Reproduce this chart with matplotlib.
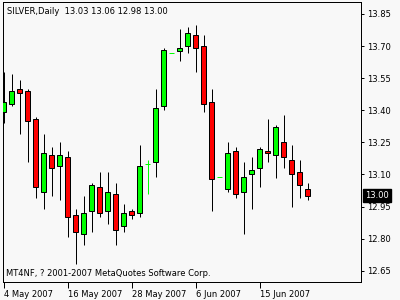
import numpy as np
import matplotlib
matplotlib.use("Agg")
import matplotlib.pyplot as plt

# daily silver bars, 4 May 2007 onwards
opens  = [13.39, 13.43, 13.50, 13.49, 13.36, 13.02, 13.19, 13.14, 13.18, 12.91,
          12.82, 12.93, 13.04, 12.93, 13.01, 12.86, 12.93, 12.92, 13.15, 13.16,
          13.42, 13.67, 13.675, 13.70, 13.75, 13.70, 13.44, 13.09, 13.03, 13.21,
          13.02, 13.10, 13.13, 13.21, 13.19, 13.25, 13.17, 13.11, 13.03]
highs  = [13.58, 13.57, 13.54, 13.50, 13.37, 13.29, 13.23, 13.25, 13.21, 12.94,
          13.00, 13.06, 13.11, 13.11, 13.06, 12.96, 12.94, 13.24, 13.17, 13.50,
          13.69, 13.67, 13.78, 13.79, 13.80, 13.75, 13.50, 13.09, 13.25, 13.23,
          13.16, 13.18, 13.23, 13.36, 13.33, 13.38, 13.24, 13.17, 13.06]
lows   = [13.34, 13.42, 13.29, 13.16, 12.99, 12.94, 13.00, 12.98, 12.81, 12.68,
          12.77, 12.83, 12.90, 12.87, 12.77, 12.83, 12.89, 12.90, 13.01, 13.09,
          13.40, 13.67, 13.63, 13.67, 13.58, 13.39, 12.93, 13.09, 13.02, 12.99,
          12.82, 12.94, 13.04, 13.16, 13.085, 13.13, 12.95, 12.99, 12.98]
closes = [13.44, 13.49, 13.48, 13.35, 13.04, 13.20, 13.13, 13.19, 12.90, 12.83,
          12.92, 13.05, 12.92, 13.02, 12.84, 12.92, 12.91, 13.14, 13.15, 13.41,
          13.68, 13.67, 13.69, 13.76, 13.69, 13.43, 13.08, 13.09, 13.20, 13.01,
          13.09, 13.12, 13.22, 13.20, 13.32, 13.18, 13.10, 13.05, 13.00]

date_ticks = [0, 8, 16, 24, 32]
date_labels = ["4 May 2007", "16 May 2007", "28 May 2007", "6 Jun 2007", "15 Jun 2007"]
price_ticks = [12.65, 12.80, 12.95, 13.10, 13.25, 13.40, 13.55, 13.70, 13.85]

bg = "#f8f8f8"
up = "#00ff00"
down = "#ff0000"
px = 0.72  # one pixel in points at 100 dpi

fig = plt.figure(figsize=(4, 3), dpi=100, facecolor=bg)
ax = fig.add_axes([2.5 / 400, 18 / 300, 358 / 400, 280 / 300], facecolor=bg)

x = np.arange(len(opens))
o = np.array(opens); h = np.array(highs); l = np.array(lows); c = np.array(closes)
w = 0.625

doji = o == c
body = ~doji
ax.vlines(x[body], l[body], h[body], color="black", lw=px, zorder=2)
bull = body & (c > o)
bear = body & (c < o)
ax.bar(x[bull], c[bull] - o[bull], bottom=o[bull], width=w, color=up,
       edgecolor="black", linewidth=px, zorder=3)
ax.bar(x[bear], o[bear] - c[bear], bottom=c[bear], width=w, color=down,
       edgecolor="black", linewidth=px, zorder=3)
ax.vlines(x[doji], l[doji], h[doji], color=up, lw=px, zorder=3)
ax.hlines(o[doji], x[doji] - w / 2, x[doji] + w / 2, color=up, lw=px, zorder=3)

ax.set_xlim(-0.125, 44.625)
ax.set_ylim(12.5977, 13.906)

for s in ax.spines.values():
    s.set_color("black")
    s.set_linewidth(px)

ax.yaxis.tick_right()
ax.set_yticks(price_ticks)
ax.set_yticklabels([f"{v:.2f}" for v in price_ticks])
ax.tick_params(axis="y", length=2.5, width=px, pad=2.5, labelsize=6, colors="black")
ax.set_xticks(date_ticks)
ax.set_xticklabels(date_labels, ha="left")
ax.tick_params(axis="x", length=4, width=px, pad=1.5, labelsize=6, colors="black")

# current price marker
last = closes[-1]
ax.text(1.0 + 4.5 / 358, last, f"{last:.2f}", transform=ax.get_yaxis_transform(),
        ha="left", va="center", fontsize=6, color="white", zorder=5,
        bbox=dict(boxstyle="square,pad=0.25", fc="black", ec="black"))

ax.text(4.2 / 358, 1 - 9 / 280,
        f"SILVER,Daily  {opens[-1]:.2f} {highs[-1]:.2f} {lows[-1]:.2f} {closes[-1]:.2f}",
        transform=ax.transAxes, ha="left", va="center", fontsize=6)
ax.text(3.2 / 358, 8 / 280, "MT4NF, ? 2001-2007 MetaQuotes Software Corp.",
        transform=ax.transAxes, ha="left", va="center", fontsize=6)

fig.savefig("out.png", dpi=100, facecolor=bg)
